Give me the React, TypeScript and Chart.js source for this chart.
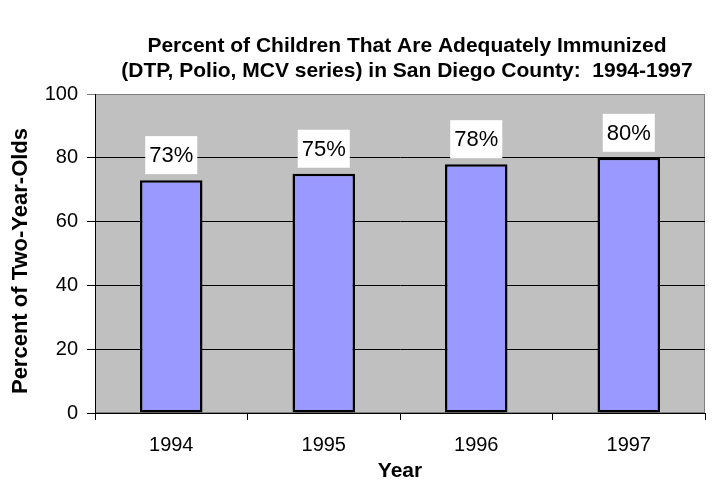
import React, { useEffect, useRef } from "react";
import { Chart, registerables } from "chart.js";

Chart.register(...registerables);

const years = ["1994", "1995", "1996", "1997"];
const percents = [73, 75, 78, 80];
const titleLines = [
  "Percent of Children That Are Adequately Immunized",
  "(DTP, Polio, MCV series) in San Diego County:  1994-1997",
];
const yTitle = "Percent of Two-Year-Olds";
const xTitle = "Year";

const FONT = "'Liberation Sans', Arial, sans-serif";

const bgPlugin = {
  id: "bgPlugin",
  beforeDraw(chart: any) {
    const { ctx, chartArea: a } = chart;
    ctx.save();
    ctx.fillStyle = "#ffffff";
    ctx.fillRect(0, 0, chart.width, chart.height);
    ctx.fillStyle = "#C0C0C0";
    ctx.fillRect(a.left, a.top, a.right - a.left, a.bottom - a.top);
    ctx.strokeStyle = "#808080";
    ctx.lineWidth = 1;
    ctx.strokeRect(a.left + 0.5, a.top + 0.5, a.right - a.left - 1, a.bottom - a.top - 1);
    ctx.restore();
  },
  afterDraw(chart: any) {
    const { ctx } = chart;
    ctx.save();
    ctx.fillStyle = "#000";
    ctx.font = `bold 21px ${FONT}`;
    ctx.textAlign = "center";
    ctx.textBaseline = "middle";
    ctx.fillText(titleLines[0], 407, 46);
    ctx.fillText(titleLines[1], 407, 71);
    ctx.translate(21, 261);
    ctx.rotate(-Math.PI / 2);
    ctx.font = `bold 22px ${FONT}`;
    ctx.fillText(yTitle, 0, 0);
    ctx.restore();
  },
};

const labelPlugin = {
  id: "labelPlugin",
  afterDatasetsDraw(chart: any) {
    const { ctx } = chart;
    const meta = chart.getDatasetMeta(0);
    ctx.save();
    ctx.font = `22px ${FONT}`;
    ctx.textAlign = "center";
    ctx.textBaseline = "middle";
    meta.data.forEach((bar: any, i: number) => {
      const text = percents[i] + "%";
      const w = ctx.measureText(text).width + 8;
      const h = 38;
      const bottom = bar.y - 6;
      ctx.fillStyle = "#ffffff";
      ctx.fillRect(bar.x - w / 2, bottom - h, w, h);
      ctx.fillStyle = "#000";
      ctx.fillText(text, bar.x, bottom - h / 2 + 1);
    });
    ctx.restore();
  },
};

export default function App() {
  const ref = useRef<HTMLCanvasElement>(null);
  useEffect(() => {
    document.body.style.margin = "0";
    const chart = new Chart(ref.current!, {
      type: "bar",
      data: {
        labels: years,
        datasets: [
          {
            data: percents,
            backgroundColor: "#9999FF",
            borderColor: "#000000",
            borderWidth: 2.5,
            borderSkipped: false,
            barPercentage: 0.41,
            categoryPercentage: 1,
          },
        ],
      },
      options: {
        animation: false,
        responsive: false,
        layout: { padding: { top: 94, right: 13, left: 0, bottom: 0 } },
        plugins: {
          legend: { display: false },
          tooltip: { enabled: false },
          title: { display: false },
        },
        scales: {
          x: {
            grid: {
              offset: true,
              drawOnChartArea: false,
              tickLength: 7,
              color: "#000",
            },
            border: { display: true, color: "#000" },
            ticks: {
              color: "#000",
              font: { size: 20, family: FONT },
              padding: 13,
            },
            title: {
              display: true,
              text: xTitle,
              color: "#000",
              font: { size: 21, weight: "bold", family: FONT },
              padding: { top: 1, bottom: 0 },
            },
            afterFit(scale: any) {
              scale.height = 71;
            },
          },
          y: {
            min: 0,
            max: 100,
            ticks: {
              stepSize: 20,
              color: "#000",
              font: { size: 20, family: FONT },
              padding: 9,
            },
            grid: {
              color: (c: any) => (c.tick && c.tick.value === 100 ? "#808080" : "#000"),
              tickLength: 8,
              lineWidth: 1,
            },
            border: { display: true, color: "#000" },
            title: { display: false },
            afterFit(scale: any) {
              scale.width = 95;
            },
          },
        },
      },
      plugins: [bgPlugin, labelPlugin],
    });
    return () => chart.destroy();
  }, []);
  return (
    <div style={{ position: "absolute", left: 0, top: 0, width: 718, height: 484 }}>
      <canvas ref={ref} width={718} height={484} style={{ width: 718, height: 484 }} />
    </div>
  );
}
